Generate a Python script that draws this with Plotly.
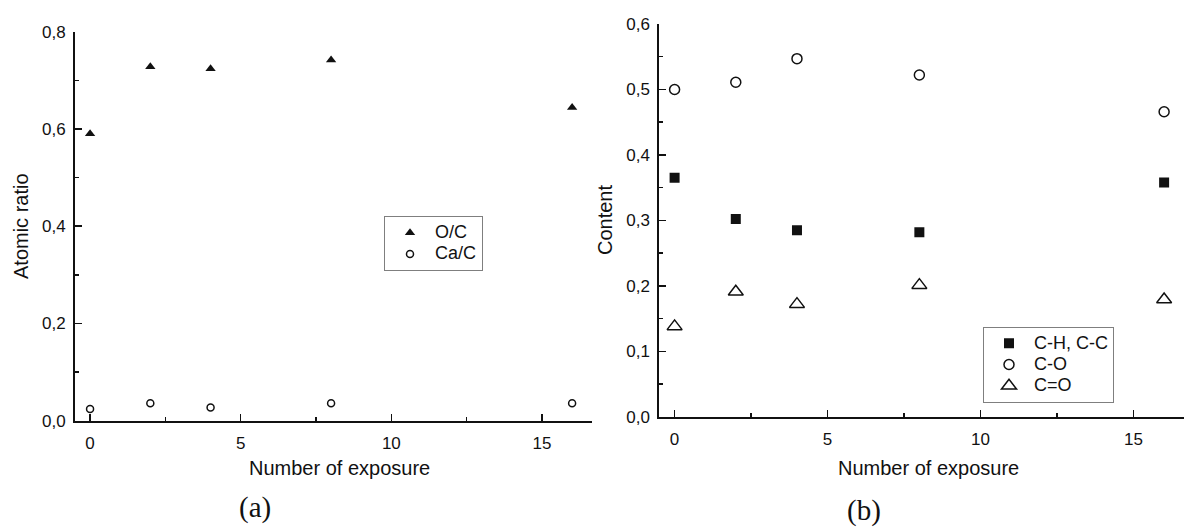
import plotly.graph_objects as go

W, H = 1184, 532

# ---- data ----
exposure = [0, 2, 4, 8, 16]
o_c = [0.590, 0.728, 0.724, 0.742, 0.644]
ca_c = [0.024, 0.036, 0.027, 0.036, 0.036]

ch_cc = [0.365, 0.302, 0.285, 0.282, 0.358]
c_o = [0.500, 0.511, 0.547, 0.522, 0.466]
c_eq_o = [0.138, 0.191, 0.172, 0.201, 0.179]

left_yticks = [0.0, 0.2, 0.4, 0.6, 0.8]
right_yticks = [0.0, 0.1, 0.2, 0.3, 0.4, 0.5, 0.6]
xticks = [0, 5, 10, 15]

FONT = "Liberation Sans, Arial, sans-serif"
SERIF = "Liberation Serif, Times New Roman, serif"
INK = "#111111"


def leg(name):
    return '<span style="font-size:18px">' + name + '</span>'


fig = go.Figure()

fig.add_trace(go.Scatter(x=exposure, y=o_c, mode="markers", name=leg("O/C"),
                         marker=dict(symbol="triangle-up", size=9, color=INK),
                         xaxis="x", yaxis="y", legend="legend"))
fig.add_trace(go.Scatter(x=exposure, y=ca_c, mode="markers", name=leg("Ca/C"),
                         marker=dict(symbol="circle-open", size=7, color=INK,
                                     line=dict(width=1.5, color=INK)),
                         xaxis="x", yaxis="y", legend="legend"))

fig.add_trace(go.Scatter(x=exposure, y=ch_cc, mode="markers", name=leg("C-H, C-C"),
                         marker=dict(symbol="square", size=10, color=INK),
                         xaxis="x2", yaxis="y2", legend="legend2"))
fig.add_trace(go.Scatter(x=exposure, y=c_o, mode="markers", name=leg("C-O"),
                         marker=dict(symbol="circle-open", size=10, color=INK,
                                     line=dict(width=1.5, color=INK)),
                         xaxis="x2", yaxis="y2", legend="legend2"))
fig.add_trace(go.Scatter(x=exposure, y=c_eq_o, mode="markers", name=leg("C=O"),
                         marker=dict(symbol="triangle-up-open", size=13, color=INK,
                                     line=dict(width=1.5, color=INK)),
                         xaxis="x2", yaxis="y2", legend="legend2"))


def px_x(p):
    return p / W


def px_y(p):
    return 1 - p / H


axis_common = dict(showline=True, linecolor=INK, linewidth=2, ticks="inside",
                   ticklen=7, tickwidth=1.5, tickcolor=INK, showgrid=False,
                   zeroline=False, tickfont=dict(family=FONT, size=17, color=INK),
                   fixedrange=True)

fig.update_layout(
    width=W, height=H,
    margin=dict(l=0, r=0, t=0, b=0, autoexpand=False),
    paper_bgcolor="white", plot_bgcolor="white",
    separators=",.",
    showlegend=True,
    xaxis=dict(domain=[px_x(75), px_x(592)], range=[-0.5, 16.66], anchor="y",
               tickvals=xticks, ticklabelstandoff=6,
               minor=dict(dtick=2.5, ticks="inside", ticklen=4, tickwidth=1.5,
                          tickcolor=INK, tick0=0),
               **axis_common),
    yaxis=dict(domain=[px_y(420.7), px_y(31.7)], range=[0, 0.8], anchor="x",
               tickvals=left_yticks, tickformat=".1f", ticklabelstandoff=4,
               minor=dict(dtick=0.1, ticks="inside", ticklen=4, tickwidth=1.5,
                          tickcolor=INK, tick0=0),
               **axis_common),
    xaxis2=dict(domain=[px_x(659.3), 1.0], range=[-0.5, 16.65], anchor="y2",
                tickvals=xticks, ticklabelstandoff=6,
                minor=dict(dtick=2.5, ticks="inside", ticklen=4, tickwidth=1.5,
                           tickcolor=INK, tick0=0),
                **axis_common),
    yaxis2=dict(domain=[px_y(416.7), px_y(24)], range=[0, 0.6], anchor="x2",
                tickvals=right_yticks, tickformat=".1f", ticklabelstandoff=4,
                minor=dict(dtick=0.05, ticks="inside", ticklen=4, tickwidth=1.5,
                           tickcolor=INK, tick0=0),
                **axis_common),
    legend=dict(x=px_x(384), y=px_y(243.7), xanchor="left", yanchor="middle",
                bordercolor="#7f7f7f", borderwidth=1, bgcolor="white",
                itemwidth=40, font=dict(family=FONT, size=14, color=INK),
                tracegroupgap=0),
    legend2=dict(x=px_x(983), y=px_y(364.7), xanchor="left", yanchor="middle",
                 bordercolor="#7f7f7f", borderwidth=1, bgcolor="white",
                 itemwidth=40, font=dict(family=FONT, size=14, color=INK),
                 tracegroupgap=0),
)

annots = [
    dict(text="Number of exposure", x=px_x(339), y=px_y(468),
         font=dict(family=FONT, size=20, color=INK)),
    dict(text="Number of exposure", x=px_x(928), y=px_y(468),
         font=dict(family=FONT, size=20, color=INK)),
    dict(text="Atomic ratio", x=px_x(21), y=px_y(226), textangle=-90,
         font=dict(family=FONT, size=20, color=INK)),
    dict(text="Content", x=px_x(605), y=px_y(220), textangle=-90,
         font=dict(family=FONT, size=20, color=INK)),
    dict(text="(a)", x=px_x(254.5), y=px_y(507),
         font=dict(family=SERIF, size=29, color=INK)),
    dict(text="(b)", x=px_x(864), y=px_y(510),
         font=dict(family=SERIF, size=29, color=INK)),
]
for a in annots:
    fig.add_annotation(xref="paper", yref="paper", showarrow=False,
                       xanchor="center", yanchor="middle", **a)

fig.write_html("out.html",
               config={"displayModeBar": False, "staticPlot": True},
               post_script="document.body.style.margin='0';"
                           "document.body.style.overflow='hidden';")
